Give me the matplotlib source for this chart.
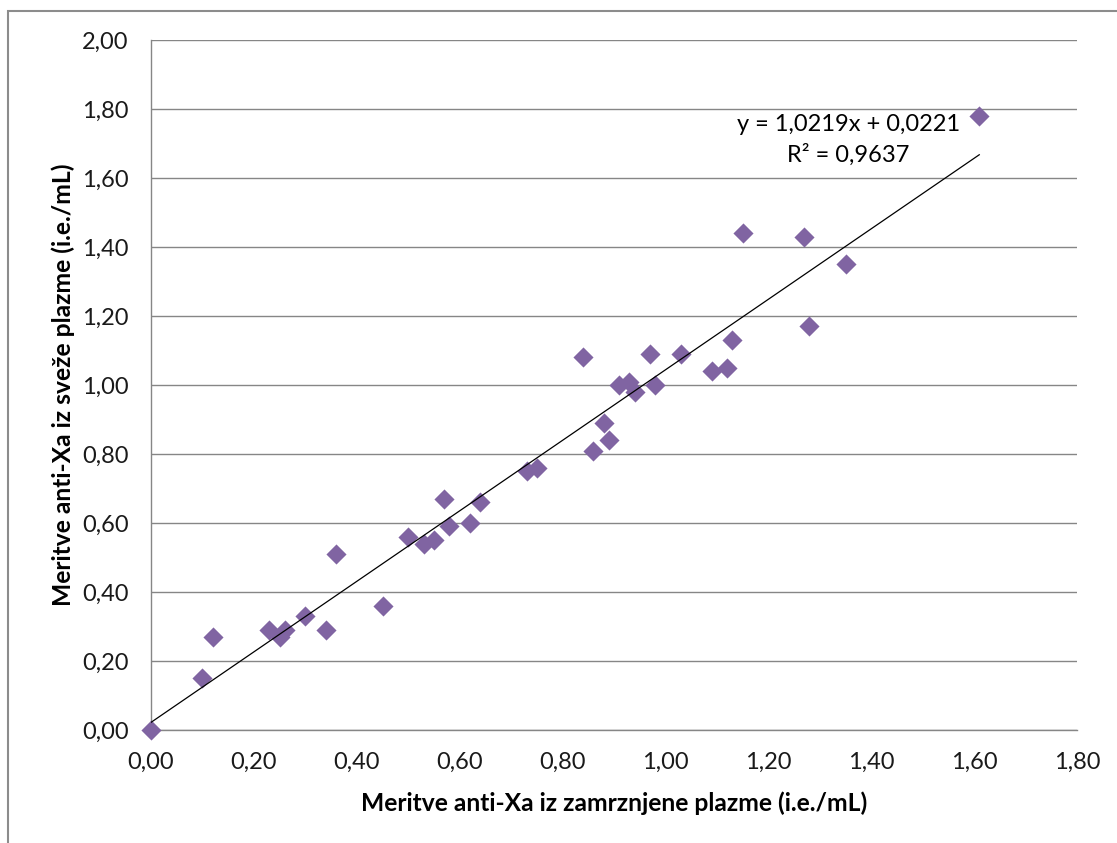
import matplotlib
matplotlib.use("Agg")
import matplotlib.pyplot as plt
import numpy as np
from matplotlib.ticker import FuncFormatter, MultipleLocator
from matplotlib.patches import Rectangle

frozen = [0.00, 0.10, 0.12, 0.23, 0.25, 0.26, 0.30, 0.34, 0.36, 0.45,
          0.50, 0.53, 0.55, 0.57, 0.58, 0.62, 0.64, 0.73, 0.75, 0.84,
          0.86, 0.88, 0.89, 0.91, 0.93, 0.94, 0.97, 0.98, 1.03, 1.09,
          1.12, 1.13, 1.15, 1.27, 1.28, 1.35, 1.61]
fresh = [0.00, 0.15, 0.27, 0.29, 0.27, 0.29, 0.33, 0.29, 0.51, 0.36,
         0.56, 0.54, 0.55, 0.67, 0.59, 0.60, 0.66, 0.75, 0.76, 1.08,
         0.81, 0.89, 0.84, 1.00, 1.01, 0.98, 1.09, 1.00, 1.09, 1.04,
         1.05, 1.13, 1.44, 1.43, 1.17, 1.35, 1.78]
slope = 1.0219
intercept = 0.0221
r2 = 0.9637
x_label = "Meritve anti-Xa iz zamrznjene plazme (i.e./mL)"
y_label = "Meritve anti-Xa iz sveže plazme (i.e./mL)"

plt.rcParams['font.family'] = ['Lato', 'DejaVu Sans']

fig = plt.figure(figsize=(11.17, 8.43), dpi=100)
fig.patches.append(Rectangle((8/1117, -0.1), 1.2, (843-11)/843 + 0.1,
                             transform=fig.transFigure, fill=False,
                             edgecolor='#8c8c8c', linewidth=1.5))
ax = fig.add_axes([151/1117, 1-730/843, (1077-151)/1117, (730-40)/843])

ax.scatter(frozen, fresh, marker='D', s=105, color='#8064A2', zorder=3,
           clip_on=False, linewidths=0)
xs = np.array([min(frozen), max(frozen)])
ax.plot(xs, slope*xs + intercept, color='black', linewidth=0.9, zorder=4)

ax.set_xlim(0, 1.8)
ax.set_ylim(0, 2.0)
ax.xaxis.set_major_locator(MultipleLocator(0.2))
ax.yaxis.set_major_locator(MultipleLocator(0.2))
fmt = FuncFormatter(lambda v, p: f"{v:.2f}".replace('.', ','))
ax.xaxis.set_major_formatter(fmt)
ax.yaxis.set_major_formatter(fmt)
ax.grid(axis='y', color='#868686', linewidth=1)
ax.set_axisbelow(True)
for s in ['top', 'right']:
    ax.spines[s].set_visible(False)
for s in ['left', 'bottom']:
    ax.spines[s].set_color('#868686')
    ax.spines[s].set_linewidth(1)
ax.tick_params(length=0, labelsize=17, colors='#1a1a1a')
ax.tick_params(axis='y', pad=16)
ax.tick_params(axis='x', pad=16)

ax.set_xlabel(x_label, fontsize=17.7, fontweight='bold', labelpad=13)
ax.set_ylabel(y_label, fontsize=17.7, fontweight='bold', labelpad=5)

ax.text(1.355, 1.755, f"y = {slope:.4f}x + {intercept:.4f}".replace('.', ','),
        fontsize=17, ha='center', va='center')
ax.text(1.355, 1.667, f"R² = {r2:.4f}".replace('.', ','),
        fontsize=17, ha='center', va='center')

fig.savefig("out.png", dpi=100)
